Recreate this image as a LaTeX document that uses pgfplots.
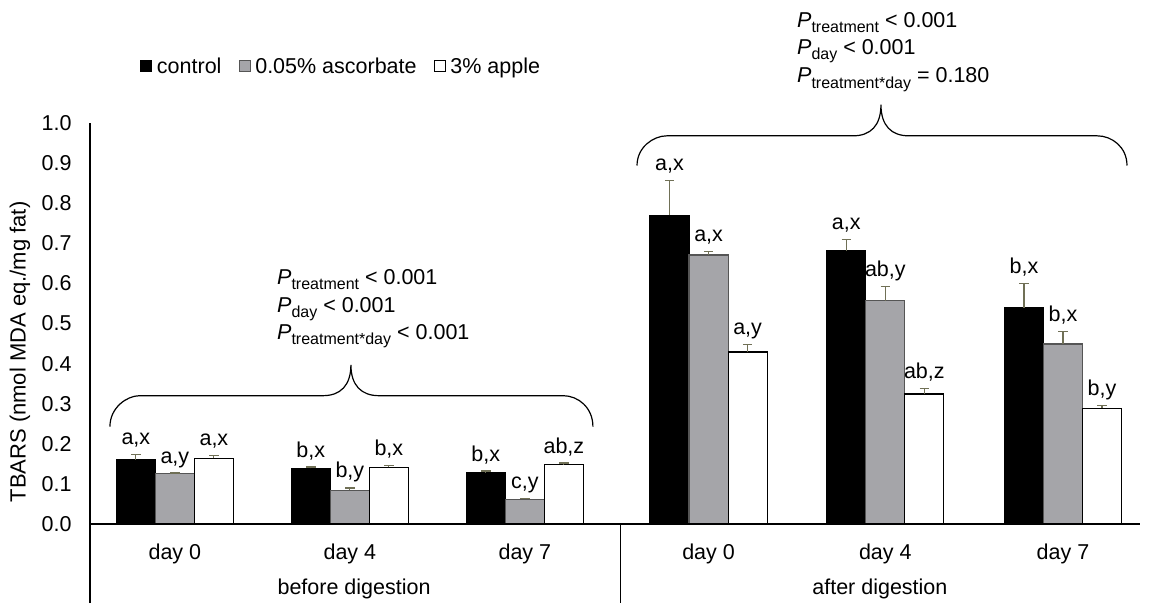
\documentclass[border=0pt]{standalone}
\usepackage{fontspec}
\setmainfont{Liberation Sans}
\usepackage{pgfplots}
\usepackage{pgfplotstable}
\pgfplotsset{compat=1.18}
\definecolor{barGrey}{RGB}{165,165,169}
\definecolor{greyEdge}{RGB}{85,85,85}
\definecolor{errCol}{RGB}{112,112,86}
\newcommand\fs{\fontsize{21.5}{25}\selectfont}
\newcommand\sub[1]{\raisebox{-0.24em}{\fontsize{16}{18}\selectfont #1}}

\pgfplotstableread{
x y err lab
-0.015 0.160 0.014 a,x
0.985 0.139 0.003 b,x
1.985 0.128 0.004 b,x
3.035 0.770 0.086 a,x
4.045 0.682 0.027 a,x
5.06 0.539 0.060 b,x
}\control
\pgfplotstableread{
x y err lab
-0.015 0.125 0.002 a,y
0.985 0.084 0.006 b,y
1.985 0.062 0.002 c,y
3.035 0.671 0.009 a,x
4.045 0.557 0.036 ab,y
5.06 0.449 0.031 b,x
}\ascorbate
\pgfplotstableread{
x y err lab
-0.015 0.164 0.006 a,x
0.985 0.141 0.005 b,x
1.985 0.148 0.004 ab,z
3.035 0.429 0.018 a,y
4.045 0.324 0.014 ab,z
5.06 0.289 0.007 b,y
}\apple

\begin{document}
\begin{tikzpicture}
\useasboundingbox (0,0) rectangle (1150pt,603pt);
\begin{axis}[
  at={(90pt,79pt)}, anchor=south west,
  width=1050pt, height=401pt, scale only axis,
  xmin=-0.5, xmax=5.5, ymin=0, ymax=1,
  clip=false,
  axis lines=left,
  axis line style={draw=none},
  major tick length=0pt,
  tick style={draw=none},
  xtick={-0.015,0.985,1.985,3.035,4.045,5.06},
  xticklabels={day 0,day 4,day 7,day 0,day 4,day 7},
  ytick={0,0.1,0.2,0.3,0.4,0.5,0.6,0.7,0.8,0.9,1.0},
  scaled y ticks=false,
  /pgf/number format/assume math mode=true,
  yticklabel={\pgfmathprintnumber[fixed,fixed zerofill,precision=1]{\tick}},
  ticklabel style={font=\fs},
  yticklabel style={xshift=-15pt},
  xticklabel style={anchor=base, yshift=-35pt},
  every axis y label/.style={at={(rel axis cs:-0.0667,0.429)}, rotate=90, anchor=center, font=\fontsize{22}{26}\selectfont},
  ylabel={TBARS (nmol MDA eq./mg fat)},
  legend style={at={(rel axis cs:0.0476,1.142)}, anchor=west, draw=none, fill=none,
    legend columns=3, font=\fs, inner sep=0pt,
    /tikz/every odd column/.append style={column sep=3pt},
    /tikz/every even column/.append style={column sep=15pt}},
  error bars/error bar style={errCol, line width=1.2pt},
  error bars/error mark options={rotate=90, errCol, mark size=4.7pt, line width=1.2pt},
]
\addplot[ybar, bar width=0.223, bar shift=0, fill=black, draw=black, line width=1.2pt,
  legend image code/.code={\draw[fill=black,draw=black,line width=0.8pt] (0pt,-5.5pt) rectangle (11pt,5.5pt);},
  error bars/.cd, y dir=plus, y explicit]
  table[x expr=\thisrow{x}-0.223, y=y, y error=err] \control;
\addlegendentry{control}
\addplot[ybar, bar width=0.223, bar shift=0, fill=barGrey, draw=greyEdge, line width=1.2pt,
  legend image code/.code={\draw[fill=barGrey,draw=greyEdge,line width=0.8pt] (0pt,-5.5pt) rectangle (11pt,5.5pt);},
  error bars/.cd, y dir=plus, y explicit]
  table[x=x, y=y, y error=err] \ascorbate;
\addlegendentry{0.05\% ascorbate}
\addplot[ybar, bar width=0.223, bar shift=0, fill=white, draw=black, line width=1.2pt,
  legend image code/.code={\draw[fill=white,draw=black,line width=0.8pt] (0pt,-5.5pt) rectangle (11pt,5.5pt);},
  error bars/.cd, y dir=plus, y explicit]
  table[x expr=\thisrow{x}+0.223, y=y, y error=err] \apple;
\addlegendentry{3\% apple}

\addplot[draw=none, mark=none, forget plot, nodes near coords, point meta=explicit symbolic,
  every node near coord/.append style={anchor=base, yshift=10pt, text=black, font=\fs}]
  table[x expr=\thisrow{x}-0.223, y expr=\thisrow{y}+\thisrow{err}, meta=lab] \control;
\addplot[draw=none, mark=none, forget plot, nodes near coords, point meta=explicit symbolic,
  every node near coord/.append style={anchor=base, yshift=10pt, text=black, font=\fs}]
  table[x expr=\thisrow{x}, y expr=\thisrow{y}+\thisrow{err}, meta=lab] \ascorbate;
\addplot[draw=none, mark=none, forget plot, nodes near coords, point meta=explicit symbolic,
  every node near coord/.append style={anchor=base, yshift=10pt, text=black, font=\fs}]
  table[x expr=\thisrow{x}+0.223, y expr=\thisrow{y}+\thisrow{err}, meta=lab] \apple;

% axis lines
\draw[black, line width=1.2pt] (axis cs:-0.5,-0.197) -- (axis cs:-0.5,1);
\draw[black, line width=1.2pt] (axis cs:-0.5,0) -- (axis cs:5.5,0);
\draw[black, line width=1.2pt] (axis cs:2.53,0) -- (axis cs:2.53,-0.197);

% group labels
\node[anchor=base, font=\fs] at (axis cs:1.009,-0.177) {before digestion};
\node[anchor=base, font=\fs] at (axis cs:4.014,-0.177) {after digestion};

% braces
\draw[black, line width=1.2pt] (axis cs:-0.386,0.243) .. controls (axis cs:-0.386,0.290) and (axis cs:-0.29,0.320) .. (axis cs:-0.216,0.320) -- (axis cs:0.831,0.320) .. controls (axis cs:0.93,0.320) and (axis cs:0.991,0.345) .. (axis cs:0.991,0.397) .. controls (axis cs:0.991,0.345) and (axis cs:1.052,0.320) .. (axis cs:1.151,0.320) -- (axis cs:2.204,0.320) .. controls (axis cs:2.29,0.320) and (axis cs:2.374,0.290) .. (axis cs:2.374,0.243);
\draw[black, line width=1.2pt] (axis cs:2.626,0.894) .. controls (axis cs:2.626,0.940) and (axis cs:2.72,0.968) .. (axis cs:2.796,0.968) -- (axis cs:3.86,0.968) .. controls (axis cs:3.96,0.968) and (axis cs:4.02,0.993) .. (axis cs:4.02,1.046) .. controls (axis cs:4.02,0.993) and (axis cs:4.08,0.968) .. (axis cs:4.18,0.968) -- (axis cs:5.256,0.968) .. controls (axis cs:5.34,0.968) and (axis cs:5.426,0.940) .. (axis cs:5.426,0.894);

% P-values
\node[anchor=base west, inner sep=0pt, font=\fs] at (axis cs:0.5686,0.597) {\textit{P}\sub{treatment} < 0.001};
\node[anchor=base west, inner sep=0pt, font=\fs] at (axis cs:0.5686,0.528) {\textit{P}\sub{day} < 0.001};
\node[anchor=base west, inner sep=0pt, font=\fs] at (axis cs:0.5686,0.460) {\textit{P}\sub{treatment*day} < 0.001};
\node[anchor=base west, inner sep=0pt, font=\fs] at (axis cs:3.54,1.2377) {\textit{P}\sub{treatment} < 0.001};
\node[anchor=base west, inner sep=0pt, font=\fs] at (axis cs:3.54,1.170) {\textit{P}\sub{day} < 0.001};
\node[anchor=base west, inner sep=0pt, font=\fs] at (axis cs:3.54,1.100) {\textit{P}\sub{treatment*day} = 0.180};
\end{axis}
\end{tikzpicture}
\end{document}
